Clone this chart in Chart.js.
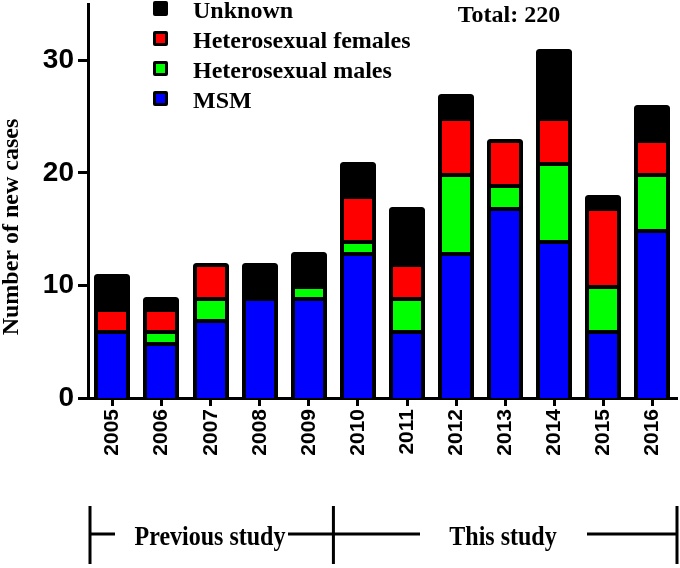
<!DOCTYPE html>
<html>
<head>
<meta charset="utf-8">
<script src="https://cdn.jsdelivr.net/npm/chart.js@4.4.1/dist/chart.umd.min.js"></script>
<style>
  body { margin: 0; background: #fff; }
  canvas { display: block; }
</style>
</head>
<body>
<canvas id="myChart" width="680" height="568"></canvas>
<script>
// data
const years = ['2005', '2006', '2007', '2008', '2009', '2010', '2011', '2012', '2013', '2014', '2015', '2016'];
const msm = [6, 5, 7, 9, 9, 13, 6, 13, 17, 14, 6, 15];
const heteroMales = [0, 1, 2, 0, 1, 1, 3, 7, 2, 7, 4, 5];
const heteroFemales = [2, 2, 3, 0, 0, 4, 3, 5, 4, 4, 7, 3];
const unknown = [3, 1, 0, 3, 3, 3, 5, 2, 0, 6, 1, 3];
const yTicks = [0, 10, 20, 30];

const seriesNames = ['MSM', 'Heterosexual males', 'Heterosexual females', 'Unknown'];
const seriesColors = ['#0000ff', '#00ff00', '#ff0000', '#000000'];

const total = [msm, heteroMales, heteroFemales, unknown]
    .reduce((s, arr) => s + arr.reduce((a, b) => a + b, 0), 0);

const serif = 'bold 24px "Liberation Serif", "Times New Roman", serif';

// snap bar edges to whole pixels so the black borders don't show seams
const snapBars = {
    id: 'snapBars',
    beforeDatasetsDraw(chart) {
        chart.getSortedVisibleDatasetMetas().forEach(meta => {
            meta.data.forEach(bar => {
                const w = Math.round(bar.width);
                const l = Math.round(bar.x - bar.width / 2);
                bar.width = w;
                bar.x = l + w / 2;
                bar.y = Math.round(bar.y);
                bar.base = Math.round(bar.base);
            });
        });
    }
};

// legend, total, y title and the study brackets
const extras = {
    id: 'extras',
    afterDraw(chart) {
        const c = chart.ctx;
        c.save();
        c.fillStyle = '#000';
        c.strokeStyle = '#000';

        // legend (top to bottom = Unknown .. MSM)
        c.font = serif;
        c.textAlign = 'left';
        c.textBaseline = 'alphabetic';
        for (let i = 0; i < 4; i++) {
            const k = 3 - i;
            const base = 18 + i * 30;
            c.fillStyle = '#000';
            c.beginPath();
            c.roundRect(153, base - 17, 15, 15, 2);
            c.fill();
            c.fillStyle = seriesColors[k];
            c.fillRect(156, base - 14, 9, 9);
            c.fillStyle = '#000';
            c.fillText(seriesNames[k], 193, base);
        }

        // total
        c.textAlign = 'center';
        c.fillText('Total: ' + total, 509, 22);

        // y axis title
        c.save();
        c.translate(18, 227);
        c.rotate(-Math.PI / 2);
        c.fillText('Number of new cases', 0, 0);
        c.restore();

        // brackets below the axis
        const x = chart.scales.x;
        const left = chart.chartArea.left + 2;
        const right = chart.chartArea.right;
        const mid = (x.getPixelForValue(4) + x.getPixelForValue(5)) / 2;
        const yl = 534;
        c.lineWidth = 3;
        c.beginPath();
        [left, mid, right].forEach(px => {
            c.moveTo(px, 506);
            c.lineTo(px, 564);
        });
        c.moveTo(left, yl); c.lineTo(115, yl);
        c.moveTo(288, yl); c.lineTo(420, yl);
        c.moveTo(587, yl); c.lineTo(right, yl);
        c.stroke();

        // text in the source looks a little stretched vertically
        c.save();
        c.translate(0, 545);
        c.scale(1, 1.15);
        c.fillText('Previous study', 210, 0);
        c.fillText('This study', 503, 0);
        c.restore();
        c.restore();
    }
};

const ctx = document.getElementById('myChart');

new Chart(ctx, {
    type: 'bar',
    data: {
        labels: years,
        datasets: [msm, heteroMales, heteroFemales, unknown].map((d, i) => ({
            label: seriesNames[i],
            data: d,
            backgroundColor: seriesColors[i],
            borderColor: '#000',
            borderWidth: 4,
            borderRadius: 3,
            barPercentage: 0.74,
            categoryPercentage: 1
        }))
    },
    options: {
        responsive: false,
        animation: false,
        devicePixelRatio: 1,
        layout: { padding: { top: 4, right: 3, left: 0, bottom: 0 } },
        plugins: {
            legend: { display: false },
            tooltip: { enabled: false }
        },
        scales: {
            x: {
                stacked: true,
                grid: {
                    drawOnChartArea: false,
                    offset: false,
                    tickLength: 8,
                    tickWidth: 3,
                    tickColor: '#000'
                },
                border: { width: 3, color: '#000' },
                ticks: {
                    color: '#000',
                    font: { family: '"Liberation Sans", Arial, sans-serif', weight: 'bold', size: 21 },
                    minRotation: 90,
                    maxRotation: 90,
                    padding: 3
                },
                afterFit(s) { s.height = 170; s.paddingLeft = 0; s.paddingRight = 0; }
            },
            y: {
                stacked: true,
                min: 0,
                max: 35,
                grid: {
                    drawOnChartArea: false,
                    tickLength: 10,
                    tickWidth: 3,
                    tickColor: '#000'
                },
                border: { width: 3, color: '#000' },
                ticks: {
                    color: '#000',
                    font: { family: '"Liberation Sans", Arial, sans-serif', weight: 'bold', size: 28 },
                    padding: 4
                },
                afterBuildTicks(s) { s.ticks = yTicks.map(v => ({ value: v })); },
                afterFit(s) { s.width = 88; s.paddingTop = 0; s.paddingBottom = 0; }
            }
        }
    },
    plugins: [snapBars, extras]
});
</script>
</body>
</html>
